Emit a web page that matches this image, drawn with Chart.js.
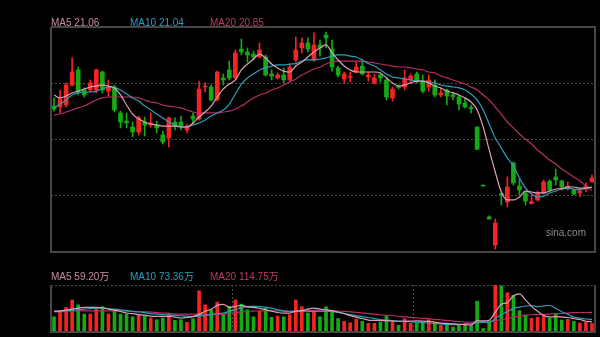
<!DOCTYPE html>
<html>
<head>
<meta charset="utf-8">
<script src="https://cdn.jsdelivr.net/npm/chart.js@4/dist/chart.umd.min.js"></script>
<style>
  html, body { margin: 0; padding: 0; background: #000; }
  body { width: 600px; height: 337px; overflow: hidden; position: relative;
         font-family: "Liberation Sans", Arial, "Noto Sans CJK SC", sans-serif; }
  #klineBox { position: absolute; left: 0; top: 0; width: 600px; height: 262px; }
  #volBox { position: absolute; left: 0; top: 270px; width: 600px; height: 67px; }
  .lg { position: absolute; font-size: 10px; line-height: 12px; white-space: nowrap; }
  #mark { position: absolute; left: 546px; top: 227px; font-size: 10px; line-height: 12px; color: #8c8c8c; }
</style>
</head>
<body>
<div id="klineBox"><canvas id="kline" width="600" height="262"></canvas></div>
<div id="volBox"><canvas id="volume" width="600" height="67"></canvas></div>
<div class="lg" id="k5" style="left:51px;top:17px"></div>
<div class="lg" id="k10" style="left:130px;top:17px"></div>
<div class="lg" id="k20" style="left:210px;top:17px"></div>
<div class="lg" id="v5" style="left:51px;top:271px"></div>
<div class="lg" id="v10" style="left:130px;top:271px"></div>
<div class="lg" id="v20" style="left:210px;top:271px"></div>
<div id="mark">sina.com</div>
<script>
// Daily K-line (price in 元)
const OPEN = [
  26.24, 26.18, 26.31, 27.59, 28.55, 27.27, 27.27, 27.27, 28.42, 27.20,
  27.46, 25.80, 25.28, 24.90, 24.58, 25.22, 25.03, 25.03, 24.39, 24.20,
  25.22, 25.22, 24.71, 25.60, 25.41, 27.46, 27.46, 26.63, 28.04, 28.55,
  28.04, 29.89, 29.70, 29.57, 29.38, 29.38, 28.29, 28.04, 28.23, 27.91,
  29.19, 29.96, 30.28, 29.19, 30.15, 30.79, 29.89, 28.68, 27.97, 28.07,
  28.42, 28.80, 28.10, 27.72, 28.23, 27.91, 26.76, 27.49, 27.46, 27.91,
  28.29, 27.78, 27.46, 27.59, 26.95, 27.27, 26.95, 26.82, 26.44, 26.15,
  24.90, 21.12, 19.15, 17.35, 20.64, 20.10, 22.60, 21.12, 20.68, 20.00,
  20.23, 20.68, 21.44, 21.70, 21.44, 20.93, 20.87, 20.68, 20.93, 21.38
];
const HIGH = [
  26.76, 27.27, 27.72, 29.32, 28.74, 27.40, 27.91, 28.61, 28.48, 27.91,
  27.59, 25.92, 25.80, 25.22, 25.60, 25.54, 25.80, 25.28, 24.64, 25.54,
  25.48, 25.60, 25.09, 25.80, 27.84, 27.72, 27.59, 28.48, 28.29, 29.12,
  29.83, 30.53, 29.96, 29.76, 30.28, 29.51, 28.55, 28.36, 28.68, 28.93,
  30.66, 30.60, 30.60, 30.92, 30.47, 30.98, 30.47, 28.80, 28.42, 28.42,
  29.06, 29.19, 28.42, 28.29, 28.36, 28.04, 27.46, 27.59, 28.55, 28.29,
  28.42, 28.23, 28.23, 27.91, 27.40, 27.33, 27.14, 26.95, 26.76, 26.31,
  24.90, 21.12, 19.22, 19.01, 20.64, 21.70, 22.66, 21.57, 20.74, 20.55,
  20.80, 21.51, 21.51, 22.21, 21.51, 21.38, 20.93, 20.93, 21.32, 21.83
];
const LOW = [
  25.92, 25.80, 26.18, 27.52, 26.95, 26.82, 27.14, 27.08, 27.08, 26.88,
  25.86, 24.84, 24.84, 24.26, 24.39, 24.32, 24.90, 24.52, 23.81, 23.62,
  24.71, 24.71, 24.52, 25.09, 25.35, 27.14, 26.56, 26.56, 27.59, 27.91,
  27.97, 29.51, 29.06, 29.19, 29.32, 28.16, 27.91, 27.97, 27.72, 27.78,
  29.06, 29.64, 29.70, 29.12, 29.44, 29.96, 28.48, 28.10, 27.72, 27.78,
  28.36, 28.23, 27.84, 27.65, 27.78, 26.63, 26.56, 27.33, 27.27, 27.72,
  27.72, 27.08, 27.20, 26.82, 26.82, 26.31, 26.63, 25.99, 26.12, 25.80,
  23.47, 21.12, 19.01, 17.09, 19.91, 19.78, 21.19, 20.55, 19.91, 19.97,
  20.16, 20.61, 20.80, 21.19, 20.87, 20.87, 20.55, 20.42, 20.74, 21.38
];
const CLOSE = [
  26.05, 26.69, 27.59, 28.42, 27.14, 26.95, 27.72, 28.55, 27.27, 27.46,
  25.99, 25.22, 25.16, 24.58, 25.48, 25.03, 25.16, 24.84, 23.94, 25.48,
  24.96, 24.90, 24.96, 25.41, 27.33, 27.52, 26.63, 28.42, 27.91, 28.04,
  29.64, 29.70, 29.51, 29.38, 29.83, 28.23, 28.16, 28.23, 27.91, 28.74,
  29.83, 30.28, 29.89, 30.15, 29.96, 30.60, 28.74, 28.23, 28.29, 28.13,
  28.74, 28.29, 28.23, 28.04, 28.04, 26.82, 27.33, 27.43, 28.04, 28.16,
  27.78, 27.20, 27.91, 26.95, 27.08, 26.88, 26.85, 26.37, 26.18, 26.08,
  23.47, 21.12, 19.01, 18.76, 20.55, 21.06, 21.32, 20.87, 20.16, 20.13,
  20.68, 21.38, 20.87, 21.51, 21.06, 21.12, 20.61, 20.80, 21.12, 21.64
];

// Price moving averages
const MA5 = [
  26.95, 26.76, 26.88, 27.08, 27.20, 27.33, 27.46, 27.52, 27.59, 27.52,
  27.40, 26.95, 26.31, 25.73, 25.41, 25.22, 25.09, 25.03, 24.96, 24.96,
  24.96, 24.90, 24.90, 25.16, 25.54, 25.86, 26.24, 26.82, 27.33, 27.65,
  27.91, 28.55, 28.93, 29.25, 29.57, 29.32, 28.93, 28.68, 28.48, 28.42,
  28.80, 29.06, 29.38, 29.70, 29.96, 30.15, 29.64, 29.19, 28.80, 28.55,
  28.42, 28.42, 28.42, 28.42, 28.36, 28.04, 27.72, 27.52, 27.59, 27.72,
  27.84, 27.84, 27.72, 27.52, 27.40, 27.20, 27.08, 26.95, 26.76, 26.50,
  25.99, 24.90, 23.43, 22.02, 20.74, 20.23, 20.23, 20.42, 20.80, 20.74,
  20.68, 20.68, 20.80, 20.93, 20.96, 21.06, 21.06, 20.99, 20.99, 21.06
];
const MA10 = [
  26.12, 26.37, 26.63, 26.95, 27.08, 27.14, 27.14, 27.20, 27.33, 27.46,
  27.40, 27.27, 27.01, 26.76, 26.56, 26.24, 25.99, 25.73, 25.48, 25.22,
  25.03, 24.90, 24.90, 25.03, 25.16, 25.35, 25.60, 25.80, 25.99, 26.37,
  27.01, 27.65, 28.04, 28.29, 28.55, 28.68, 28.80, 28.87, 28.87, 28.93,
  28.96, 29.12, 29.19, 29.19, 29.25, 29.32, 29.44, 29.51, 29.51, 29.44,
  29.38, 29.19, 28.96, 28.80, 28.55, 28.29, 28.10, 28.04, 27.97, 27.91,
  27.84, 27.84, 27.78, 27.72, 27.59, 27.52, 27.46, 27.40, 27.27, 27.01,
  26.63, 25.99, 25.09, 24.20, 23.56, 22.92, 22.40, 21.64, 20.99, 20.61,
  20.42, 20.48, 20.68, 20.80, 20.93, 20.99, 20.93, 20.87, 20.99, 21.04
];
const MA20 = [
  25.67, 25.73, 25.86, 25.99, 26.12, 26.24, 26.44, 26.63, 26.76, 26.82,
  26.82, 26.82, 26.82, 26.82, 26.76, 26.63, 26.50, 26.44, 26.31, 26.24,
  26.18, 26.12, 25.99, 25.86, 25.80, 25.80, 25.80, 25.80, 25.86, 25.92,
  26.05, 26.24, 26.50, 26.76, 26.95, 27.08, 27.27, 27.40, 27.59, 27.78,
  27.97, 28.23, 28.42, 28.61, 28.74, 28.93, 29.06, 29.12, 29.12, 29.12,
  29.12, 29.12, 29.06, 29.00, 28.93, 28.87, 28.80, 28.74, 28.74, 28.68,
  28.61, 28.55, 28.42, 28.36, 28.16, 28.04, 27.91, 27.78, 27.65, 27.46,
  27.27, 26.95, 26.63, 26.18, 25.73, 25.22, 24.84, 24.45, 24.13, 23.81,
  23.43, 23.11, 22.79, 22.53, 22.21, 21.96, 21.70, 21.44, 21.12, 20.85
];

// Volume (万股) and its moving averages
const VOLUME = [
  89, 121, 144, 187, 159, 105, 105, 140, 148, 105,
  130, 105, 105, 89, 101, 95, 82, 72, 82, 111,
  68, 72, 57, 78, 241, 159, 130, 175, 105, 150,
  187, 163, 130, 89, 121, 140, 86, 93, 89, 101,
  187, 148, 111, 124, 89, 148, 121, 78, 62, 54,
  76, 62, 51, 51, 57, 95, 57, 39, 78, 51,
  51, 57, 72, 57, 39, 45, 29, 45, 39, 39,
  180, 20, 67, 275, 270, 230, 215, 125, 100, 80,
  86, 95, 82, 105, 70, 74, 62, 53, 57, 50
];
const VMA5 = [
  121, 124, 128, 134, 140, 144, 144, 144, 142, 134,
  128, 120, 111, 107, 102, 99, 93, 92, 92, 92,
  87, 82, 85, 90, 103, 121, 133, 156, 162, 144,
  149, 156, 147, 144, 138, 131, 122, 114, 111, 111,
  122, 125, 134, 140, 134, 130, 125, 117, 108, 96,
  87, 79, 70, 68, 67, 66, 64, 63, 63, 64,
  65, 64, 62, 58, 52, 50, 47, 45, 43, 41,
  66, 65, 69, 116, 162, 172, 211, 223, 188, 150,
  121, 97, 88, 90, 88, 85, 79, 73, 63, 59.20
];
const VMA10 = [
  121, 122, 125, 128, 130, 134, 137, 140, 140, 137,
  134, 130, 125, 120, 117, 113, 108, 105, 102, 99,
  97, 95, 93, 92, 93, 97, 102, 108, 111, 120,
  131, 143, 149, 150, 149, 146, 140, 131, 122, 120,
  122, 122, 121, 121, 120, 121, 120, 114, 108, 102,
  96, 90, 85, 79, 73, 70, 67, 64, 62, 60,
  58, 55, 52, 50, 47, 44, 43, 44, 47, 48,
  55, 58, 55, 78, 101, 119, 138, 146, 152, 155,
  148, 153, 155, 139, 119, 103, 88, 81, 76, 73.36
];
const VMA20 = [
  117, 118, 121, 122, 124, 124, 124, 124, 124, 124,
  124, 124, 122, 121, 120, 118, 117, 114, 111, 108,
  106, 105, 105, 105, 104, 102, 101, 102, 105, 109,
  114, 117, 120, 122, 124, 124, 124, 124, 124, 122,
  122, 122, 125, 127, 128, 128, 125, 122, 121, 118,
  115, 112, 108, 105, 101, 98, 95, 92, 89, 86,
  83, 80, 78, 74, 71, 68, 64, 61, 58, 57,
  58, 59, 61, 67, 72, 79, 87, 93, 97, 101,
  102, 103, 105, 107, 109, 111, 113, 114, 114, 114.75
];

// Axis settings
const PRICE_TICKS = [16.9, 20.5, 24.1, 27.7, 31.3];
const VOLUME_TOP = 275;
const MONTH_STARTS = [30, 60];

const RED = '#f42424';
const GREEN = '#14aa14';
const LINE_COLORS = { ma5: '#dba0b6', ma10: '#2a9fbd', ma20: '#b52f66' };
const TEXT_COLORS = { ma5: '#c98aa3', ma10: '#2a9fbd', ma20: '#b83a6a' };
const FRAME = '#464646';
const GRID = '#4a4a4a';

const days = OPEN.map((_, i) => String(i + 1));

// red when the close is up, green when down (flat days use the previous close)
const candleColor = OPEN.map((o, i) => {
  const c = CLOSE[i];
  const rising = c > o || (c === o && i > 0 && c >= CLOSE[i - 1]);
  return rising ? RED : GREEN;
});

// solid panel frame; the top edge is optional
const framePlugin = {
  id: 'frame',
  afterDraw(chart, args, opts) {
    const { ctx, chartArea } = chart;
    const L = Math.round(chartArea.left), R = Math.round(chartArea.right);
    const T = Math.round(chartArea.top), B = Math.round(chartArea.bottom);
    ctx.save();
    ctx.strokeStyle = opts.color;
    ctx.lineWidth = 2;
    ctx.beginPath();
    ctx.moveTo(L, T);
    ctx.lineTo(L, B);
    ctx.lineTo(R, B);
    ctx.lineTo(R, T);
    if (opts.top) ctx.lineTo(L, T);
    ctx.stroke();
    ctx.restore();
  }
};

function maLine(label, data, color) {
  return {
    type: 'line', label, data,
    borderColor: color, borderWidth: 1.2,
    pointRadius: 0, cubicInterpolationMode: 'monotone',
    fill: false, order: 0
  };
}

const common = {
  responsive: false,
  animation: false,
  events: [],
  devicePixelRatio: 1
};

new Chart(document.getElementById('kline'), {
  data: {
    labels: days,
    datasets: [
      maLine('MA5', MA5, LINE_COLORS.ma5),
      maLine('MA10', MA10, LINE_COLORS.ma10),
      maLine('MA20', MA20, LINE_COLORS.ma20),
      {
        type: 'bar', label: 'body',
        data: OPEN.map((o, i) => [o, CLOSE[i]]),
        backgroundColor: candleColor,
        barThickness: 4, minBarLength: 1, grouped: false, order: 5
      },
      {
        type: 'bar', label: 'shadow',
        data: LOW.map((l, i) => [l, HIGH[i]]),
        backgroundColor: candleColor,
        barThickness: 1, minBarLength: 1, grouped: false, order: 6
      }
    ]
  },
  options: {
    ...common,
    layout: { padding: { left: 51, top: 27, right: 5, bottom: 10 } },
    plugins: {
      legend: { display: false },
      tooltip: { enabled: false },
      frame: { color: FRAME, top: true }
    },
    scales: {
      x: { type: 'category', offset: true, display: false },
      y: {
        min: PRICE_TICKS[0], max: PRICE_TICKS[PRICE_TICKS.length - 1],
        afterBuildTicks: s => { s.ticks = PRICE_TICKS.map(v => ({ value: v })); },
        ticks: { display: false },
        grid: { color: GRID, drawTicks: false, lineWidth: 1 },
        border: { display: false, dash: [2, 2] }
      }
    }
  },
  plugins: [framePlugin]
});

new Chart(document.getElementById('volume'), {
  data: {
    labels: days,
    datasets: [
      maLine('MA5', VMA5, LINE_COLORS.ma5),
      maLine('MA10', VMA10, LINE_COLORS.ma10),
      maLine('MA20', VMA20, LINE_COLORS.ma20),
      {
        type: 'bar', label: 'volume', data: VOLUME,
        backgroundColor: candleColor,
        barThickness: 3, grouped: false, order: 5
      }
    ]
  },
  options: {
    ...common,
    layout: { padding: { left: 51, top: 15, right: 5, bottom: 5 } },
    plugins: {
      legend: { display: false },
      tooltip: { enabled: false },
      frame: { color: FRAME, top: false }
    },
    scales: {
      x: {
        type: 'category', offset: true,
        ticks: { display: false, autoSkip: false },
        grid: {
          offset: true, drawTicks: false, lineWidth: 1,
          color: c => MONTH_STARTS.includes(c.index) ? GRID : 'rgba(0,0,0,0)'
        },
        border: { display: false, dash: [2, 2] }
      },
      y: {
        min: 0, max: VOLUME_TOP,
        afterBuildTicks: s => { s.ticks = [{ value: VOLUME_TOP }]; },
        ticks: { display: false },
        grid: { color: GRID, drawTicks: false, lineWidth: 1 },
        border: { display: false, dash: [2, 2] }
      }
    }
  },
  plugins: [framePlugin]
});

// legend texts take the last moving-average values
function setLegend(id, name, value, unit, color) {
  const el = document.getElementById(id);
  el.textContent = name + ' ' + value.toFixed(2) + unit;
  el.style.color = color;
}
setLegend('k5', 'MA5', MA5[MA5.length - 1], '', TEXT_COLORS.ma5);
setLegend('k10', 'MA10', MA10[MA10.length - 1], '', TEXT_COLORS.ma10);
setLegend('k20', 'MA20', MA20[MA20.length - 1], '', TEXT_COLORS.ma20);
setLegend('v5', 'MA5', VMA5[VMA5.length - 1], '万', TEXT_COLORS.ma5);
setLegend('v10', 'MA10', VMA10[VMA10.length - 1], '万', TEXT_COLORS.ma10);
setLegend('v20', 'MA20', VMA20[VMA20.length - 1], '万', TEXT_COLORS.ma20);
</script>
</body>
</html>
